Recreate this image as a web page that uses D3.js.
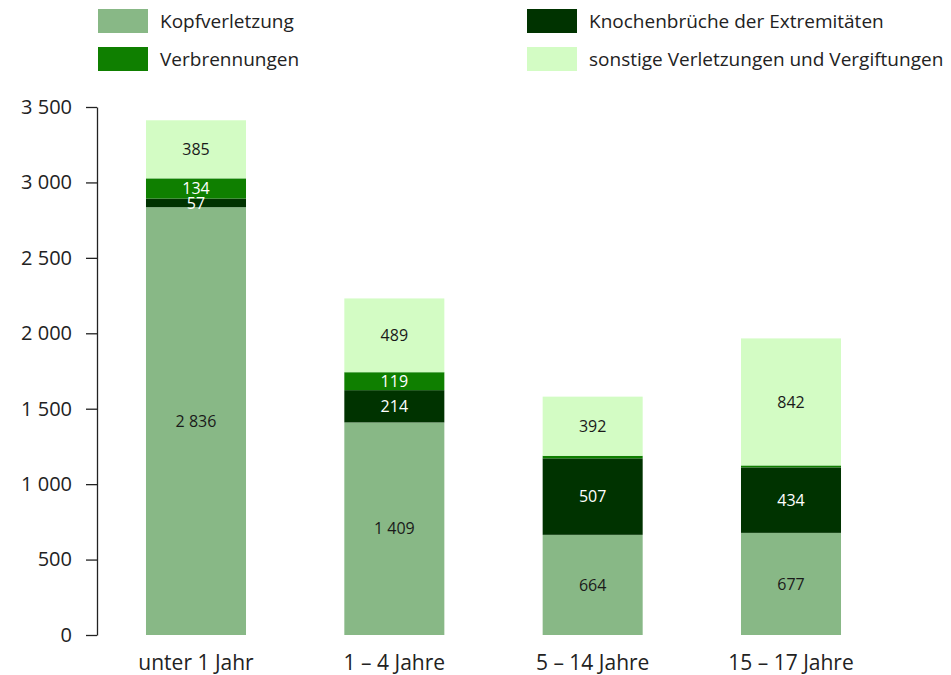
<!DOCTYPE html>
<html><head><meta charset="utf-8">
<script src="https://cdn.jsdelivr.net/npm/d3@7"></script>
<style>
body{margin:0;background:#fff;}
svg{display:block;}
</style></head>
<body>
<svg id="chart" width="951" height="675"></svg>
<script>
const categories = ["unter 1 Jahr", "1 – 4 Jahre", "5 – 14 Jahre", "15 – 17 Jahre"];
const seriesNames = ["Kopfverletzung", "Knochenbrüche der Extremitäten", "Verbrennungen", "sonstige Verletzungen und Vergiftungen"];
const kopf = [2836, 1409, 664, 677];
const knochen = [57, 214, 507, 434];
const verbrennung = [134, 119, 17, 13];
const sonstige = [385, 489, 392, 842];
const yTicks = [0, 500, 1000, 1500, 2000, 2500, 3000, 3500];

const colors = ["#88b886", "#003300", "#0f7f00", "#d3fcc4"];
const labelColors = ["#1a1a1a", "#ffffff", "#ffffff", "#1a1a1a"];
const seriesValues = [kopf, knochen, verbrennung, sonstige];

const rows = categories.map((c, i) => {
  const r = {cat: c};
  seriesNames.forEach((s, j) => r[s] = seriesValues[j][i]);
  return r;
});

const svg = d3.select("#chart");
const fmt = d3.formatLocale({decimal: ",", thousands: " ", grouping: [3], currency: ["", "€"]}).format(",d");

const x = d3.scaleBand().domain(categories).range([97, 890]).paddingInner(0.4957).paddingOuter(0.247);
const y = d3.scaleLinear().domain([0, 3500]).range([635, 107]);

const stack = d3.stack().keys(seriesNames)(rows);

const g = svg.append("g");
stack.forEach((layer, j) => {
  g.selectAll(null).data(layer).enter().append("rect")
    .attr("x", d => x(d.data.cat))
    .attr("width", x.bandwidth())
    .attr("y", d => y(d[1]))
    .attr("height", d => y(d[0]) - y(d[1]))
    .attr("fill", colors[j]);
});
stack.forEach((layer, j) => {
  g.selectAll(null).data(layer.filter(d => d[1] - d[0] >= 50)).enter().append("text")
    .attr("x", d => x(d.data.cat) + x.bandwidth() / 2)
    .attr("y", d => (y(d[0]) + y(d[1])) / 2)
    .attr("dy", "0.36em")
    .attr("text-anchor", "middle")
    .attr("font-family", "'Open Sans', sans-serif")
    .attr("font-size", 16)
    .attr("fill", labelColors[j])
    .text(d => fmt(d[1] - d[0]));
});

// y axis
const yAxis = d3.axisLeft(y).tickValues(yTicks).tickSize(11).tickSizeOuter(0).tickPadding(14).tickFormat(fmt);
const ya = svg.append("g").attr("transform", "translate(97,0)").call(yAxis);
ya.select(".domain").attr("stroke", "#222").attr("stroke-width", 1.3);
ya.selectAll(".tick line").attr("stroke", "#222").attr("stroke-width", 1.3);
ya.selectAll(".tick text").attr("font-family", "'Open Sans', sans-serif").attr("font-size", 20).attr("fill", "#222");

// x axis labels
const xAxis = d3.axisBottom(x).tickSize(0).tickPadding(0);
const xa = svg.append("g").attr("transform", "translate(0,648)").call(xAxis);
xa.select(".domain").remove();
xa.selectAll(".tick text").attr("dy", null).attr("y", 22).attr("font-family", "'Open Sans', sans-serif").attr("font-size", 21).attr("fill", "#222");

// legend
const legendPos = [[98, 9], [527, 9], [98, 47], [527, 47]];
seriesNames.forEach((s, j) => {
  const [lx, ly] = legendPos[j];
  svg.append("rect").attr("x", lx).attr("y", ly).attr("width", 50).attr("height", 24).attr("fill", colors[j]);
  svg.append("text").attr("x", lx + 62).attr("y", ly + 12).attr("dy", "0.35em")
    .attr("font-family", "'Open Sans', sans-serif").attr("font-size", 19).attr("fill", "#222")
    .text(s);
});
</script>
</body></html>
